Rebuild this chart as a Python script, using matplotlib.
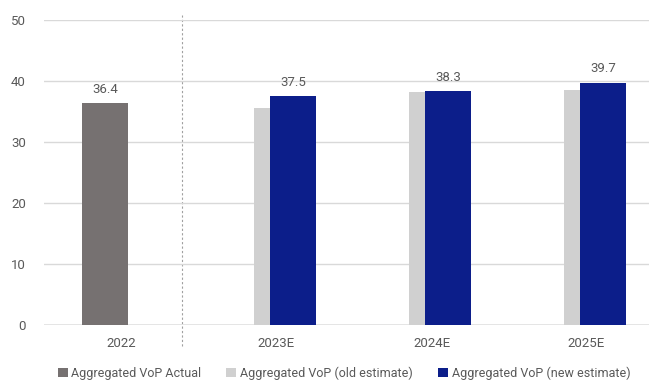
import matplotlib.pyplot as plt
import numpy as np

plt.rcParams['font.family'] = ['Roboto', 'DejaVu Sans']

categories = ["2022", "2023E", "2024E", "2025E"]
actual = [36.4, None, None, None]
old_estimate = [None, 35.5, 38.1, 38.5]
new_estimate = [None, 37.5, 38.3, 39.7]

COL_ACTUAL = "#767171"
COL_OLD = "#d0d0d0"
COL_NEW = "#0c1e8a"
TEXT = "#595959"

fig = plt.figure(figsize=(6.49, 3.8), dpi=100)
ax = fig.add_axes([44 / 649, 55.5 / 380, 605 / 649, 304.5 / 380])

x = np.arange(len(categories))
width = 46 / 155
step = 16.5 / 155


def series(vals):
    idx = [i for i, v in enumerate(vals) if v is not None]
    return np.array(idx), np.array([vals[i] for i in idx])


xa, ya = series(actual)
xo, yo = series(old_estimate)
xn, yn = series(new_estimate)

ax.bar(xa - step, ya, width, color=COL_ACTUAL, zorder=3, label="Aggregated VoP Actual")
ax.bar(xo, yo, width, color=COL_OLD, zorder=3, label="Aggregated VoP (old estimate)")
ax.bar(xn + step, yn, width, color=COL_NEW, zorder=4, label="Aggregated VoP (new estimate)")

for xi, v in zip(xa - step, ya):
    ax.text(xi, v + 1.2, f"{v:.1f}", ha="center", va="bottom", fontsize=9.5, color=TEXT)
for xi, v in zip(xn + step, yn):
    ax.text(xi, v + 1.2, f"{v:.1f}", ha="center", va="bottom", fontsize=9.5, color=TEXT)

ax.set_ylim(0, 50)
ax.set_xlim(-0.5, -0.5 + 605 / 155)
ax.set_yticks(range(0, 51, 10))
ax.yaxis.grid(True, color="#d9d9d9", linewidth=1, zorder=0)
ax.axhline(0, color="#e3e3e3", linewidth=2, zorder=2)
ax.set_xticks(x)
ax.set_xticklabels(categories)
ax.tick_params(axis="both", length=0, labelsize=9.5, labelcolor=TEXT)
ax.tick_params(axis="y", pad=13)
ax.tick_params(axis="x", pad=9)
for s in ax.spines.values():
    s.set_visible(False)

# dotted separator between actual and estimates
ax.plot([0.39, 0.39], [-3.6, 50.8], color="#a0a0a0", linestyle=(0, (2, 2)),
        linewidth=0.8, clip_on=False, zorder=1)

fig.legend(loc="center", bbox_to_anchor=(0.53, 7 / 380), ncol=3,
           frameon=False, fontsize=9, labelcolor=TEXT, handlelength=0.8,
           handleheight=0.8, handletextpad=0.3, columnspacing=2.0)

fig.savefig("out.png", dpi=100)
